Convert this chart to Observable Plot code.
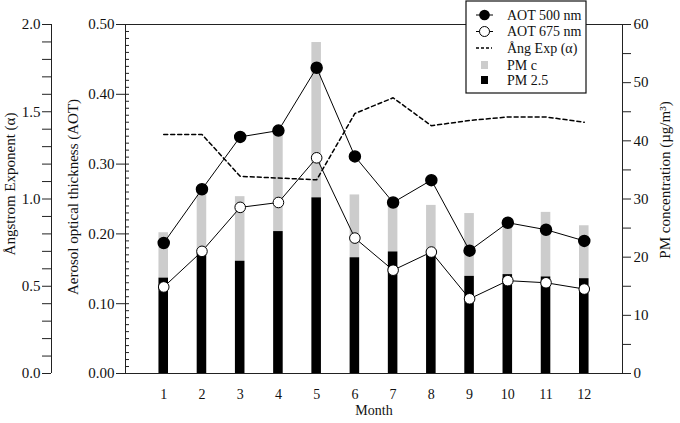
<!DOCTYPE html>
<html><head><meta charset="utf-8">
<script src="https://cdn.jsdelivr.net/npm/d3@7"></script>
<script src="https://cdn.jsdelivr.net/npm/@observablehq/plot@0.6"></script>
<style>body{margin:0;background:#fff}</style>
</head><body><div id="chart"></div>
<script>
const months = [1,2,3,4,5,6,7,8,9,10,11,12];
const aot500 = [0.187,0.264,0.339,0.348,0.438,0.311,0.245,0.277,0.176,0.216,0.206,0.190];
const aot675 = [0.124,0.175,0.238,0.245,0.309,0.194,0.148,0.174,0.107,0.133,0.130,0.121];
const angExp = [1.37,1.37,1.13,1.12,1.11,1.49,1.58,1.42,1.45,1.47,1.47,1.44];
const pm25   = [16.4,20.6,19.3,24.4,30.2,19.9,20.9,20.6,16.7,17.0,16.6,16.3];
const pmC    = [7.8,10.1,11.1,17.1,26.7,10.8,8.0,8.3,10.8,9.3,11.1,9.1];
const aotTicks = [0,0.1,0.2,0.3,0.4,0.5];
const alphaTicks = d3.range(0,21).map(i=>i/10);
const pmTicks = d3.range(0,13).map(i=>i*5);
const legendItems = ["AOT 500 nm","AOT 675 nm","Ång Exp (α)","PM c","PM 2.5"];

const AOT_MAX = 0.5, ALPHA_MAX = 2, PM_MAX = 60;
const alphaToY = a => a * AOT_MAX / ALPHA_MAX;
const pmToY = p => p * AOT_MAX / PM_MAX;

const rows = months.map((m,i)=>({month:m, a500:aot500[i], a675:aot675[i], ang:angExp[i], pm25:pm25[i], pmc:pmC[i]}));
const halfBar = 0.125;

const plot = Plot.plot({
  width: 680, height: 423,
  marginLeft: 125, marginRight: 58, marginTop: 24, marginBottom: 50,
  style: {fontFamily: "'Liberation Serif','Times New Roman',serif", fontSize: "14px", color: "#111", background: "#fff"},
  x: {domain: [0, 13], axis: null},
  y: {domain: [0, AOT_MAX], axis: null},
  marks: [
    Plot.rect(rows, {x1: d=>d.month-halfBar, x2: d=>d.month+halfBar, y1: d=>pmToY(d.pm25), y2: d=>pmToY(d.pm25+d.pmc), fill: "#cccccc"}),
    Plot.rect(rows, {x1: d=>d.month-halfBar, x2: d=>d.month+halfBar, y1: 0, y2: d=>pmToY(d.pm25), fill: "#000"}),
    Plot.line(rows, {x: "month", y: d=>alphaToY(d.ang), stroke: "#000", strokeWidth: 1.5, strokeDasharray: "4,3"}),
    Plot.line(rows, {x: "month", y: "a500", stroke: "#000", strokeWidth: 1}),
    Plot.line(rows, {x: "month", y: "a675", stroke: "#000", strokeWidth: 1}),
    Plot.dot(rows, {x: "month", y: "a500", r: 5.5, fill: "#000", stroke: "#000"}),
    Plot.dot(rows, {x: "month", y: "a675", r: 5.3, fill: "#fff", stroke: "#000", strokeWidth: 1}),
    Plot.frame({stroke: "#222"}),
    Plot.axisY({anchor: "left", ticks: aotTicks, tickFormat: d=>d.toFixed(2), tickSize: 9, tickPadding: 2, label: null, stroke: "#222", fontSize: 15}),
    Plot.axisY({anchor: "left", ticks: d3.range(0,51).map(i=>i/100), tickFormat: ()=>"", tickSize: 4, dx: 4, label: null, stroke: "#222"}),
    Plot.ruleX([0], {y1: 0, y2: AOT_MAX, dx: -74, stroke: "#222"}),
    Plot.axisY({anchor: "left", ticks: alphaTicks.map(alphaToY), tickFormat: d => { const a = Math.round(d*ALPHA_MAX/AOT_MAX*10)/10; return Math.abs(a*2 - Math.round(a*2))<1e-6 ? a.toFixed(1) : ""; }, tickSize: 9, tickPadding: 2, dx: -74, label: null, stroke: "#222", fontSize: 15}),
    Plot.axisY({anchor: "right", ticks: pmTicks.map(pmToY), tickFormat: d => { const p = Math.round(d*PM_MAX/AOT_MAX); return p % 10 === 0 ? String(p) : ""; }, tickSize: 8, tickPadding: 3, label: null, stroke: "#222", fontSize: 15}),
    Plot.axisX({ticks: months, tickSize: 0, tickPadding: 16, label: null, fontSize: 14}),
    Plot.text(["Month"], {frameAnchor: "bottom", dy: 41, fontSize: 14})
  ]
});
document.getElementById("chart").appendChild(plot);

const svg = d3.select(plot);
const titles = [
  {t: "Ångstrom Exponent (α)", x: 10, y: 184},
  {t: "Aerosol optical thickness (AOT)", x: 73, y: 197},
  {t: "PM concentration (µg/m³)", x: 665, y: 180}
];
titles.forEach(d => {
  svg.append("text").attr("transform", `translate(${d.x},${d.y}) rotate(-90)`)
    .attr("text-anchor", "middle").attr("dy", "0.35em").attr("font-size", 15).attr("fill", "#111").text(d.t);
});

const lg = svg.append("g").attr("transform", "translate(466,1)").attr("text-anchor", "start");
lg.append("rect").attr("width", 120).attr("height", 92).attr("fill", "#fff").attr("stroke", "#111").attr("stroke-width", 1.2);
const ys = [14, 30.5, 47, 64, 79];
lg.append("line").attr("x1", 10).attr("x2", 27).attr("y1", ys[0]).attr("y2", ys[0]).attr("stroke", "#000");
lg.append("circle").attr("cx", 18.5).attr("cy", ys[0]).attr("r", 5.3).attr("fill", "#000");
lg.append("line").attr("x1", 10).attr("x2", 27).attr("y1", ys[1]).attr("y2", ys[1]).attr("stroke", "#000");
lg.append("circle").attr("cx", 18.5).attr("cy", ys[1]).attr("r", 5).attr("fill", "#fff").attr("stroke", "#000");
lg.append("line").attr("x1", 10).attr("x2", 26).attr("y1", ys[2]).attr("y2", ys[2]).attr("stroke", "#000").attr("stroke-width", 1.5).attr("stroke-dasharray", "3,2");
lg.append("rect").attr("x", 15).attr("y", ys[3]-4).attr("width", 7).attr("height", 8).attr("fill", "#cccccc");
lg.append("rect").attr("x", 15).attr("y", ys[4]-4).attr("width", 7).attr("height", 8).attr("fill", "#000");
legendItems.forEach((t,i)=>{
  lg.append("text").attr("x", 41).attr("y", ys[i]).attr("dy", "0.35em").attr("font-size", 14).attr("fill", "#111").attr("text-anchor", "start").text(t);
});
</script></body></html>
